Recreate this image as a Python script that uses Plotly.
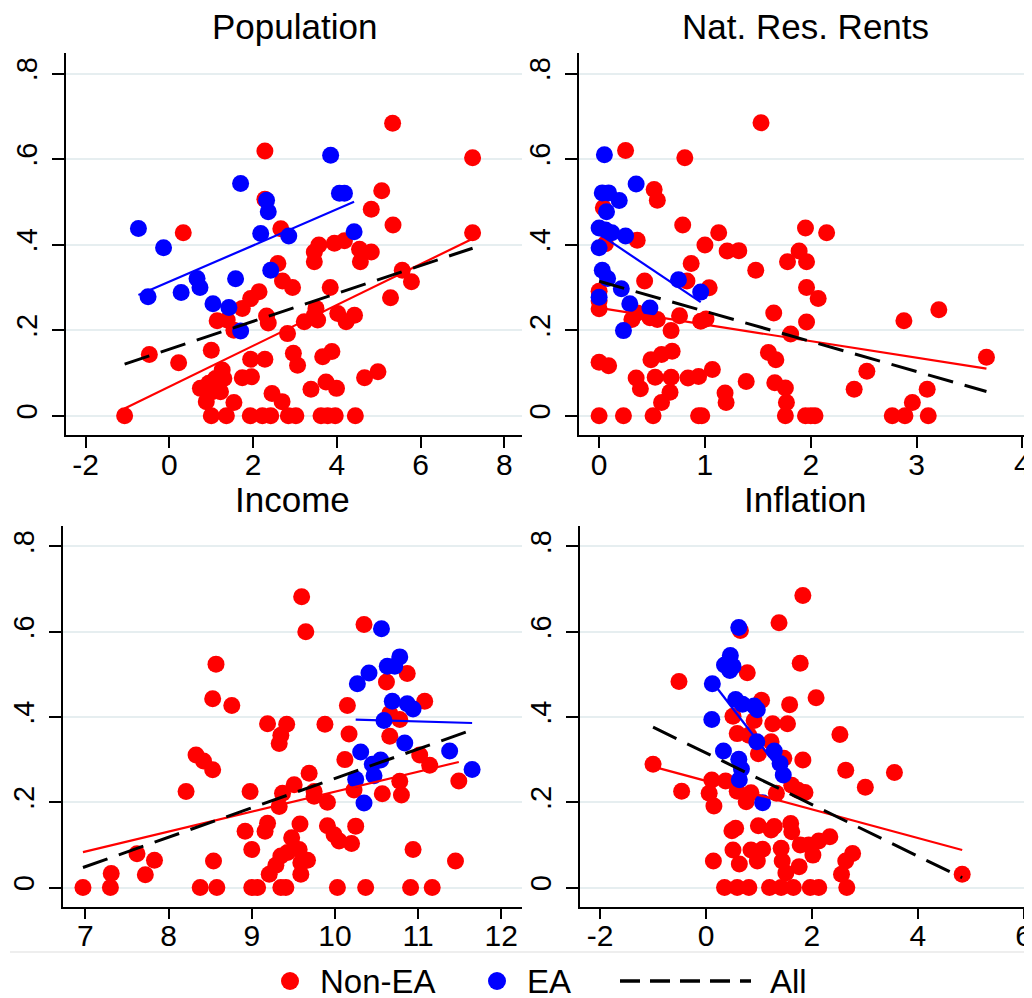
import plotly.graph_objects as go

# ---------------- data ----------------
# Panel 1: Population
pop_nonea_x = [-1.07, -0.48, 0.22, 0.33, 2.28, 5.33, 7.24, 7.24, 5.07, 4.82, 5.34, 2.66, 2.28, 2.59,
               3.57, 3.94, 4.18, 3.46, 3.46, 4.54, 4.82, 4.56, 5.56, 5.78, 5.28, 3.84, 2.70, 2.94,
               2.14, 1.94, 1.74, 1.14, 1.38, 1.54, 2.32, 2.36, 3.22, 3.46, 3.54, 3.50, 4.02, 4.22,
               4.42, 2.82, 1.00, 1.94, 2.28, 2.96, 3.06, 3.66, 3.88, 4.66, 4.98, 1.26, 1.10, 1.30,
               0.74, 0.94, 1.02, 1.22, 0.88, 1.54, 1.74, 1.96, 2.45, 2.69, 3.38, 3.74, 3.99,
               1.00, 1.36, 1.93, 2.22, 2.42, 2.84, 3.02, 3.62, 3.78, 3.96, 4.44]
pop_nonea_y = [0.0, 0.143, 0.124, 0.428, 0.619, 0.684, 0.603, 0.428, 0.526, 0.483, 0.446, 0.437, 0.506, 0.356,
               0.399, 0.403, 0.409, 0.383, 0.360, 0.389, 0.383, 0.360, 0.340, 0.313, 0.276, 0.300, 0.315, 0.300,
               0.290, 0.274, 0.251, 0.222, 0.224, 0.200, 0.233, 0.217, 0.220, 0.235, 0.224, 0.251, 0.239, 0.220,
               0.235, 0.192, 0.153, 0.132, 0.132, 0.146, 0.118, 0.138, 0.150, 0.089, 0.103, 0.107, 0.087, 0.087,
               0.064, 0.076, 0.056, 0.056, 0.033, 0.031, 0.089, 0.091, 0.052, 0.033, 0.062, 0.079, 0.064,
               0.0, 0.0, 0.0, 0.0, 0.0, 0.0, 0.0, 0.0, 0.0, 0.0, 0.0]
pop_ea_x = [-0.74, -0.14, 1.70, 3.85, 4.06, 4.18, 2.32, 2.36, 2.18, 2.85, 4.41, 2.42, 0.66, 0.73,
            1.58, -0.51, 0.28, 1.04, 1.42, 1.70]
pop_ea_y = [0.438, 0.393, 0.543, 0.609, 0.520, 0.520, 0.504, 0.477, 0.426, 0.420, 0.430, 0.340, 0.321, 0.300,
            0.320, 0.278, 0.288, 0.262, 0.253, 0.198]

# Panel 2: Natural resource rents
nrr_nonea_x = [1.53, 0.25, 0.81, 0.52, 0.55, 0.04, 0.79, 1.13, 1.95, 2.15, 0.36, 0.06, 1.00, 1.21, 1.32,
               0.87, 1.48, 1.78, 1.89, 1.96, 0.43, 0.83, 1.04, 1.96, 2.07, 0.00, 0.00, 0.00, 0.31, 0.36,
               0.48, 0.55, 0.76, 0.96, 1.01, 0.68, 1.65, 1.96, 1.81, 2.88, 3.21, 3.66, 0.00, 0.09, 0.49,
               0.59, 0.69, 1.60, 1.67, 1.07, 0.94, 0.84, 0.35, 0.39, 0.53, 0.68, 0.67, 0.59, 1.19, 1.20,
               1.39, 1.66, 1.76, 1.77, 2.53, 2.41, 3.10, 2.96,
               0.00, 0.23, 0.51, 0.94, 0.97, 1.76, 1.95, 2.00, 2.04, 2.77, 2.89, 3.11]
nrr_nonea_y = [0.685, 0.620, 0.603, 0.529, 0.504, 0.486, 0.446, 0.428, 0.439, 0.428, 0.410, 0.402, 0.399, 0.385, 0.386,
               0.356, 0.340, 0.360, 0.385, 0.360, 0.315, 0.315, 0.299, 0.300, 0.274, 0.291, 0.269, 0.250, 0.225, 0.240,
               0.229, 0.225, 0.234, 0.221, 0.226, 0.199, 0.240, 0.219, 0.191, 0.222, 0.248, 0.137, 0.125, 0.117, 0.131,
               0.143, 0.151, 0.148, 0.131, 0.108, 0.092, 0.088, 0.088, 0.063, 0.090, 0.090, 0.055, 0.031, 0.053, 0.031,
               0.080, 0.077, 0.065, 0.031, 0.104, 0.062, 0.062, 0.031,
               0.0, 0.0, 0.0, 0.0, 0.0, 0.0, 0.0, 0.0, 0.0, 0.0, 0.0, 0.0]
nrr_ea_x = [0.05, 0.35, 0.03, 0.09, 0.19, 0.07, 0.00, 0.06, 0.12, 0.25, 0.00, 0.03, 0.08, 0.75,
            0.21, 0.96, 0.00, 0.29, 0.48, 0.23]
nrr_ea_y = [0.610, 0.542, 0.521, 0.521, 0.503, 0.477, 0.439, 0.434, 0.428, 0.420, 0.393, 0.340, 0.321, 0.318,
            0.297, 0.289, 0.277, 0.262, 0.252, 0.199]

# Panel 3: Income
inc_nonea_x = [9.60, 9.65, 10.35, 8.57, 8.53, 8.76, 10.87, 10.62, 11.08, 10.15, 10.66, 10.78, 9.19, 9.42,
               9.88, 9.35, 9.33, 10.17, 10.66, 8.33, 8.42, 8.53, 10.12, 11.02, 11.14, 9.69, 10.78, 10.80,
               11.49, 8.21, 8.98, 9.37, 9.51, 9.75, 9.75, 10.57, 10.23, 9.91, 9.33, 8.92, 9.19, 9.16,
               9.58, 9.91, 9.99, 10.05, 10.20, 10.25, 9.48, 9.00, 9.57, 9.43, 9.35, 9.67, 9.59, 9.29,
               9.21, 9.59, 7.62, 7.83, 7.72, 7.31, 8.54, 10.94, 11.45,
               6.97, 7.30, 8.38, 8.58, 9.00, 9.07, 9.35, 9.41, 10.03, 10.37, 10.91, 11.17]
inc_nonea_y = [0.682, 0.600, 0.617, 0.524, 0.443, 0.427, 0.502, 0.482, 0.437, 0.427, 0.408, 0.394, 0.384, 0.383,
               0.383, 0.357, 0.338, 0.360, 0.355, 0.311, 0.297, 0.276, 0.300, 0.311, 0.287, 0.268, 0.249, 0.217,
               0.250, 0.225, 0.225, 0.221, 0.241, 0.225, 0.214, 0.220, 0.229, 0.200, 0.190, 0.132, 0.151, 0.132,
               0.149, 0.145, 0.124, 0.109, 0.103, 0.144, 0.117, 0.089, 0.089, 0.082, 0.074, 0.064, 0.058, 0.052,
               0.031, 0.031, 0.079, 0.064, 0.030, 0.033, 0.062, 0.089, 0.062,
               0.0, 0.0, 0.0, 0.0, 0.0, 0.0, 0.0, 0.0, 0.0, 0.0, 0.0, 0.0]
inc_ea_x = [10.56, 10.78, 10.63, 10.72, 10.41, 10.27, 10.69, 10.87, 10.94, 10.59, 10.84, 10.31, 11.38,
            10.55, 10.45, 10.47, 10.25, 11.65, 10.35]
inc_ea_y = [0.607, 0.541, 0.519, 0.519, 0.503, 0.478, 0.437, 0.431, 0.419, 0.392, 0.339, 0.318, 0.320,
            0.299, 0.289, 0.262, 0.254, 0.277, 0.198]

# Panel 4: Inflation
inf_nonea_x = [1.83, 1.38, 0.65, 1.78, -0.51, 0.78, 2.08, 1.58, 1.05, 0.51, 0.91, 1.26, 1.54, 0.59, 0.81,
               2.53, 1.23, 0.99, 1.47, 1.83, -1.00, 2.64, 3.56, 3.01, 0.11, 0.37, -0.46, 0.06, 0.15,
               0.59, 0.85, 0.76, 1.33, 1.62, 1.74, 1.87, 0.49, 0.56, 0.99, 1.23, 1.29, 1.60, 1.62, 2.34,
               2.13, 1.94, 1.78, 0.51, 0.85, 1.07, 1.42, 2.02, 2.77, 2.64, 0.14, 0.63, 0.97, 1.44, 1.51,
               1.76, 2.56, 4.84,
               0.35, 0.59, 0.81, 1.20, 1.42, 1.65, 1.97, 2.13, 2.66]
inf_nonea_y = [0.685, 0.621, 0.603, 0.526, 0.483, 0.504, 0.445, 0.429, 0.439, 0.402, 0.392, 0.384, 0.384, 0.361, 0.357,
               0.359, 0.342, 0.314, 0.303, 0.299, 0.289, 0.275, 0.270, 0.235, 0.252, 0.250, 0.226, 0.221, 0.191,
               0.226, 0.222, 0.201, 0.221, 0.240, 0.228, 0.223, 0.133, 0.139, 0.145, 0.135, 0.143, 0.150, 0.131, 0.119,
               0.109, 0.100, 0.100, 0.088, 0.088, 0.090, 0.092, 0.076, 0.080, 0.062, 0.062, 0.055, 0.062, 0.062, 0.034,
               0.049, 0.031, 0.031,
               0.0, 0.0, 0.0, 0.0, 0.0, 0.0, 0.0, 0.0, 0.0]
inf_ea_x = [0.62, 0.46, 0.35, 0.45, 0.51, 0.12, 0.56, 0.69, 0.91, 0.97, 0.11, 0.96, 0.33, 0.62, 0.67,
            0.63, 1.29, 1.40, 1.46, 1.07]
inf_ea_y = [0.610, 0.544, 0.522, 0.509, 0.519, 0.478, 0.441, 0.430, 0.426, 0.417, 0.394, 0.342, 0.320, 0.301, 0.278,
            0.253, 0.320, 0.291, 0.264, 0.199]

# Linear fits: (intercept, slope)
fit_pop = {"Non-EA": (0.0681, 0.04775), "EA": (0.3136, 0.04227), "All": (0.1556, 0.0326)}
fit_nrr = {"Non-EA": (0.252, -0.0388), "EA": (0.425, -0.166), "All": (0.3145, -0.0704)}
fit_inc = {"Non-EA": (-0.2431, 0.04678), "EA": (0.4535, -0.0058), "All": (-0.4335, 0.06894)}
fit_inf = {"Non-EA": (0.2502, -0.0335), "EA": (0.5015, -0.1615), "All": (0.3157, -0.0605)}

panel_titles = ["Population", "Nat. Res. Rents", "Income", "Inflation"]
legend_labels = ["Non-EA", "EA", "All"]
y_tickvals = [0, 0.2, 0.4, 0.6, 0.8]
y_ticktext = ["0", ".2", ".4", ".6", ".8"]
x_tickvals = [[-2, 0, 2, 4, 6, 8], [0, 1, 2, 3, 4], [7, 8, 9, 10, 11, 12], [-2, 0, 2, 4, 6]]
x_ticktext = [["-2", "0", "2", "4", "6", "8"], ["0", "1", "2", "3", "4"],
              ["7", "8", "9", "10", "11", "12"], ["-2", "0", "2", "4", "6"]]
x_ranges = [[-2.47, 8.42], [-0.19, 4.166], [6.73, 12.25], [-2.38, 6.31]]

panels = [
    (pop_nonea_x, pop_nonea_y, pop_ea_x, pop_ea_y, fit_pop),
    (nrr_nonea_x, nrr_nonea_y, nrr_ea_x, nrr_ea_y, fit_nrr),
    (inc_nonea_x, inc_nonea_y, inc_ea_x, inc_ea_y, fit_inc),
    (inf_nonea_x, inf_nonea_y, inf_ea_x, inf_ea_y, fit_inf),
]

# ---------------- styling ----------------
RED = "#ff0000"
BLUE = "#0000ff"
FONT = "Liberation Sans, Arial, Helvetica, sans-serif"
W, H = 1032, 998
OFF = 8  # the page body adds an 8 px margin around the figure
PLOT_DASH = "26px,12px"
LEGEND_DASH = "20px,10px"


def px(x):
    """screen x pixel -> paper x"""
    return (x - OFF) / W


def py(y):
    """screen y pixel -> paper y"""
    return 1 - (y - OFF) / H


x_domains = [[px(66), px(522)], [px(579), px(1040)], [px(63), px(522)], [px(580), px(1040)]]
y_domains = [[py(435), py(53)], [py(435), py(53)], [py(906.7), py(526)], [py(906.7), py(526)]]
title_y = [py(27), py(27), py(499), py(499)]

fig = go.Figure()

for i, (rx, ry, bx, by, fits) in enumerate(panels):
    xa = "x" if i == 0 else f"x{i+1}"
    ya = "y" if i == 0 else f"y{i+1}"
    fig.add_trace(go.Scatter(x=rx, y=ry, mode="markers", name="Non-EA", showlegend=False,
                             xaxis=xa, yaxis=ya,
                             marker=dict(color=RED, size=17, line=dict(width=0))))
    fig.add_trace(go.Scatter(x=bx, y=by, mode="markers", name="EA", showlegend=False,
                             xaxis=xa, yaxis=ya,
                             marker=dict(color=BLUE, size=17, line=dict(width=0))))
    groups = [("Non-EA", rx, RED, "solid", 2.2),
              ("EA", bx, BLUE, "solid", 2.2),
              ("All", rx + bx, "black", PLOT_DASH, 3)]
    for name, xs, col, dash, wid in groups:
        a, b = fits[name]
        x0, x1 = min(xs), max(xs)
        fig.add_trace(go.Scatter(x=[x0, x1], y=[a + b * x0, a + b * x1], mode="lines",
                                 name=name, showlegend=False, xaxis=xa, yaxis=ya, hoverinfo="skip",
                                 line=dict(color=col, width=wid, dash=dash)))

layout = dict(
    width=W, height=H,
    margin=dict(l=0, r=0, t=0, b=0, autoexpand=False),
    paper_bgcolor="white", plot_bgcolor="white",
    font=dict(family=FONT, color="black", size=30),
    showlegend=False,
)
for i in range(4):
    xk = "xaxis" if i == 0 else f"xaxis{i+1}"
    yk = "yaxis" if i == 0 else f"yaxis{i+1}"
    ya = "y" if i == 0 else f"y{i+1}"
    xa = "x" if i == 0 else f"x{i+1}"
    layout[xk] = dict(domain=x_domains[i], range=x_ranges[i], anchor=ya, automargin=False,
                      tickvals=x_tickvals[i], ticktext=x_ticktext[i], ticks="outside", ticklen=11,
                      tickwidth=1.5, tickcolor="black", showline=True, linecolor="black", linewidth=1.5,
                      showgrid=False, zeroline=False, ticklabelstandoff=-9,
                      tickfont=dict(size=30, family=FONT))
    layout[yk] = dict(domain=y_domains[i], range=[-0.045, 0.848], anchor=xa, automargin=False,
                      tickvals=y_tickvals, ticktext=y_ticktext, tickangle=-90,
                      ticks="outside", ticklen=12, tickwidth=1.5, tickcolor="black",
                      showline=True, linecolor="black", linewidth=1.5,
                      showgrid=True, gridcolor="#e6eef0", gridwidth=1.5, zeroline=False,
                      ticklabelstandoff=4, tickfont=dict(size=29, family=FONT))

fig.update_layout(**layout)

for i, t in enumerate(panel_titles):
    fig.add_annotation(text=t, x=sum(x_domains[i]) / 2 if i % 2 == 0 else (px(579) + px(1032)) / 2,
                       y=title_y[i], xref="paper", yref="paper",
                       xanchor="center", yanchor="middle", showarrow=False,
                       font=dict(size=35, family=FONT, color="black"))

# ---- legend (drawn as keys + labels along the bottom) ----
LEG_Y = py(981)
r = 9 / W
ry_ = 9 / H
fig.add_shape(type="circle", xref="paper", yref="paper", x0=px(290) - r, x1=px(290) + r,
              y0=LEG_Y - ry_, y1=LEG_Y + ry_, fillcolor=RED, line=dict(width=0))
fig.add_shape(type="circle", xref="paper", yref="paper", x0=px(497) - r, x1=px(497) + r,
              y0=LEG_Y - ry_, y1=LEG_Y + ry_, fillcolor=BLUE, line=dict(width=0))
fig.add_shape(type="line", xref="paper", yref="paper", x0=px(620), x1=px(751), y0=LEG_Y, y1=LEG_Y,
              line=dict(color="black", width=3.5, dash=LEGEND_DASH))
for lbl, lx in zip(legend_labels, [318, 525, 768]):
    fig.add_annotation(text=lbl, x=px(lx), y=LEG_Y, xref="paper", yref="paper",
                       xanchor="left", yanchor="middle", showarrow=False,
                       font=dict(size=33, family=FONT, color="black"))

# faint outer border of the graph regions
fig.add_shape(type="line", xref="paper", yref="paper", x0=px(10), x1=px(1040), y0=py(952), y1=py(952),
              line=dict(color="#dddddd", width=1))

fig.write_html("out.html")
